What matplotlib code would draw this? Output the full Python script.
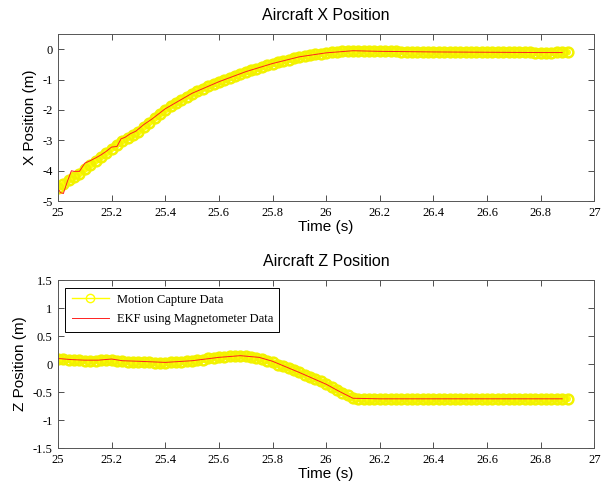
import numpy as np
import matplotlib
matplotlib.use("Agg")
import matplotlib.pyplot as plt

# motion capture samples (every 0.02 s)
mocap_t = np.round(np.arange(25.00, 26.901, 0.02), 2)
mocap_x = [-4.57, -4.45, -4.32, -4.20, -4.10, -3.95, -3.82, -3.68, -3.55, -3.42,
           -3.27, -3.14, -3.02, -2.92, -2.82, -2.72, -2.57, -2.42, -2.28, -2.14,
           -2.00, -1.88, -1.77, -1.67, -1.56, -1.46, -1.38, -1.30, -1.22, -1.15,
           -1.08, -1.01, -0.94, -0.87, -0.81, -0.75, -0.70, -0.64, -0.59, -0.53,
           -0.48, -0.43, -0.39, -0.34, -0.30, -0.26, -0.23, -0.20, -0.17, -0.15,
           -0.13, -0.10, -0.08, -0.06, -0.05, -0.05, -0.05, -0.05, -0.06, -0.06,
           -0.06, -0.07, -0.07, -0.07, -0.08, -0.08, -0.08, -0.08, -0.09, -0.09,
           -0.09, -0.09, -0.10, -0.10, -0.10, -0.10, -0.10, -0.10, -0.10, -0.10,
           -0.10, -0.10, -0.10, -0.10, -0.10, -0.10, -0.10, -0.10, -0.10, -0.11,
           -0.11, -0.11, -0.11, -0.10, -0.10, -0.10]
mocap_z = [0.09, 0.09, 0.08, 0.07, 0.07, 0.06, 0.06, 0.06, 0.07, 0.07,
           0.07, 0.06, 0.05, 0.04, 0.04, 0.04, 0.03, 0.03, 0.02, 0.02,
           0.02, 0.03, 0.04, 0.04, 0.05, 0.06, 0.07, 0.08, 0.10, 0.11,
           0.12, 0.13, 0.14, 0.14, 0.15, 0.14, 0.13, 0.11, 0.09, 0.06,
           0.03, -0.01, -0.04, -0.07, -0.11, -0.15, -0.19, -0.23, -0.27, -0.31,
           -0.36, -0.41, -0.46, -0.51, -0.56, -0.61, -0.62, -0.62, -0.62, -0.62,
           -0.62, -0.62, -0.62, -0.62, -0.62, -0.62, -0.62, -0.62, -0.62, -0.62,
           -0.62, -0.62, -0.62, -0.62, -0.62, -0.62, -0.62, -0.62, -0.62, -0.62,
           -0.62, -0.62, -0.62, -0.62, -0.62, -0.62, -0.62, -0.62, -0.62, -0.62,
           -0.62, -0.62, -0.62, -0.62, -0.62, -0.62]

# EKF estimate
ekf_x_t = [25.00, 25.01, 25.02, 25.035, 25.05, 25.06, 25.08, 25.10, 25.12, 25.14,
           25.16, 25.18, 25.20, 25.22, 25.235, 25.25, 25.27, 25.29, 25.32, 25.35,
           25.40, 25.50, 25.60, 25.70, 25.80, 25.90, 26.00, 26.10, 26.20, 26.40,
           26.60, 26.80, 26.88]
ekf_x = [-4.60, -4.72, -4.75, -4.35, -4.00, -4.02, -4.02, -3.75, -3.67, -3.58,
         -3.48, -3.36, -3.22, -3.20, -2.95, -2.90, -2.78, -2.70, -2.48, -2.30,
         -1.96, -1.45, -1.07, -0.74, -0.47, -0.25, -0.12, -0.05, -0.07, -0.09,
         -0.10, -0.11, -0.11]
ekf_z_t = [25.00, 25.05, 25.10, 25.15, 25.20, 25.24, 25.30, 25.40, 25.50, 25.60,
           25.68, 25.75, 25.80, 25.90, 26.00, 26.05, 26.10, 26.20, 26.50, 26.88]
ekf_z = [0.10, 0.08, 0.07, 0.07, 0.09, 0.06, 0.05, 0.03, 0.06, 0.12,
         0.15, 0.12, 0.05, -0.15, -0.36, -0.49, -0.61, -0.62, -0.62, -0.62]

x_ticks = np.round(np.arange(25, 27.01, 0.2), 1)
x_ticklabels = ["25", "25.2", "25.4", "25.6", "25.8", "26", "26.2", "26.4", "26.6", "26.8", "27"]

fig = plt.figure(figsize=(6.13, 4.93), dpi=100)
ax1 = fig.add_axes([0.0946, 0.592, 0.875, 0.339])
ax2 = fig.add_axes([0.0946, 0.091, 0.875, 0.341])

serif = "Liberation Serif"
sans = "Liberation Sans"


def style(ax, title, ylabel, ylim, yticks, yticklabels):
    ax.set_xlim(25, 27)
    ax.set_ylim(*ylim)
    ax.set_xticks(x_ticks)
    ax.set_xticklabels(x_ticklabels, family=serif, fontsize=9)
    ax.set_yticks(yticks)
    ax.set_yticklabels(yticklabels, family=serif, fontsize=9)
    ax.tick_params(direction="in", length=4, width=0.6, top=True, right=True, pad=4,
                   color="#333333")
    for s in ax.spines.values():
        s.set_linewidth(0.7)
        s.set_color("#555555")
    ax.set_title(title, family=sans, fontsize=11.5, pad=10)
    ax.set_xlabel("Time (s)", family=sans, fontsize=11, labelpad=1)
    ax.set_ylabel(ylabel, family=sans, fontsize=11, labelpad=4)


yel = "#ffff00"
ax1.plot(mocap_t, mocap_x, color=yel, lw=5, solid_capstyle="round")
ax1.plot(mocap_t, mocap_x, ls="none", marker="o", ms=7, mfc="none",
         mec="#f2f200", mew=1.8)
ax1.plot(ekf_x_t, ekf_x, color="#ff2020", lw=0.7)
style(ax1, "Aircraft X Position", "X Position (m)", (-5, 0.5),
      [-5, -4, -3, -2, -1, 0], ["-5", "-4", "-3", "-2", "-1", "0"])

ax2.plot(mocap_t, mocap_z, color=yel, lw=5, solid_capstyle="round")
ax2.plot(mocap_t, mocap_z, ls="none", marker="o", ms=7, mfc="none",
         mec="#f2f200", mew=1.8)
ax2.plot([], [], color=yel, lw=1, marker="o", ms=6, mfc="none", mec=yel,
         mew=1.0, label="Motion Capture Data")
ax2.plot(ekf_z_t, ekf_z, color="#ff2020", lw=0.7, label="EKF using Magnetometer Data")
style(ax2, "Aircraft Z Position", "Z Position (m)", (-1.5, 1.5),
      [-1.5, -1, -0.5, 0, 0.5, 1, 1.5], ["-1.5", "-1", "-0.5", "0", "0.5", "1", "1.5"])

leg = ax2.legend(loc="upper left", prop={"family": serif, "size": 9},
                 fancybox=False, edgecolor="black", framealpha=1,
                 borderaxespad=0.6, handlelength=3.0,
                 labelspacing=0.6, borderpad=0.5, handletextpad=0.6)
leg.get_frame().set_linewidth(0.7)

fig.savefig("out.png", dpi=100)
